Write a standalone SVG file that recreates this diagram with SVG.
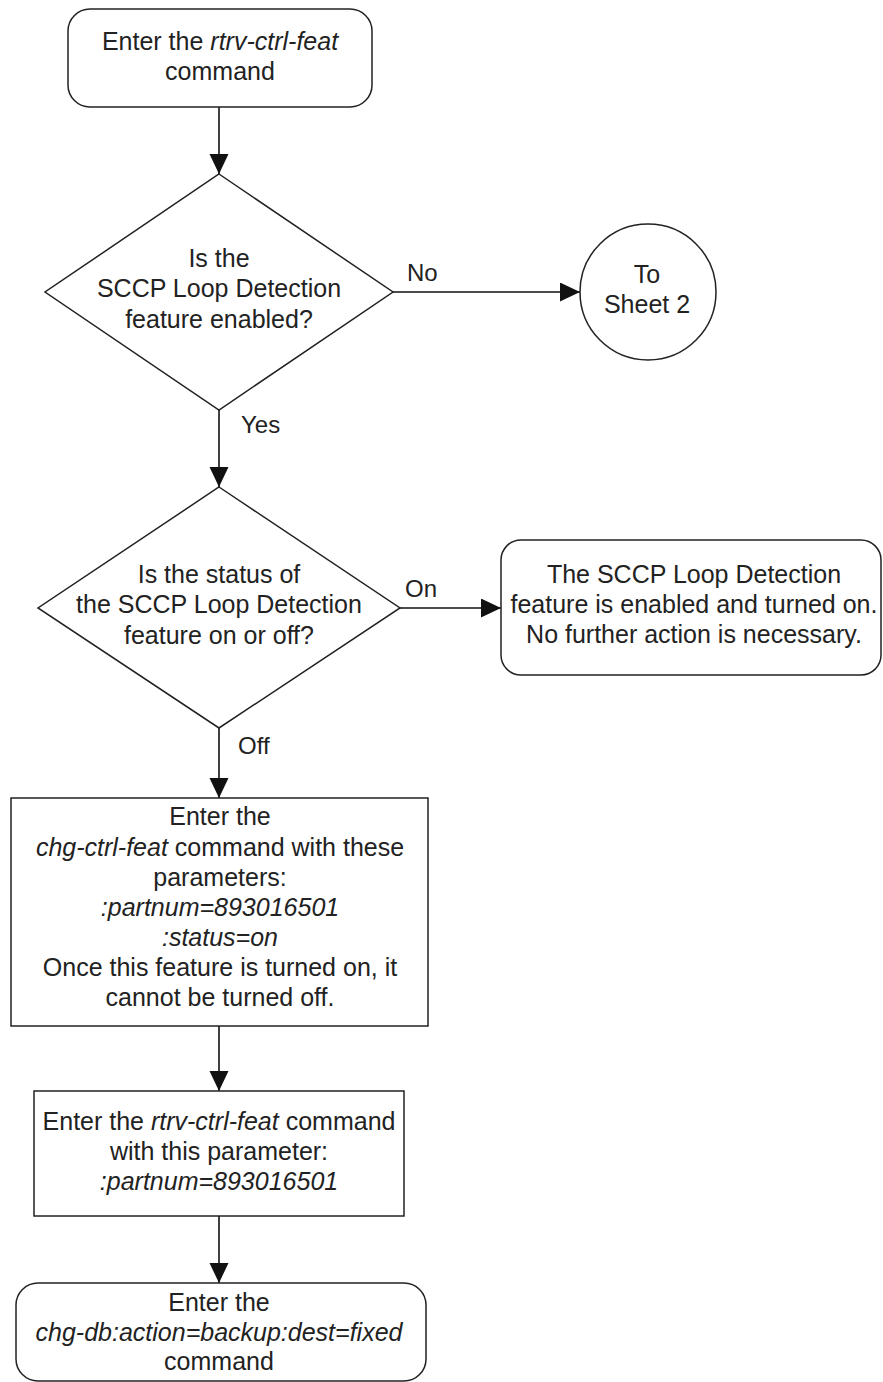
<svg xmlns="http://www.w3.org/2000/svg" width="883" height="1382" viewBox="0 0 883 1382">
<style>
.shape{fill:#fff;stroke:#222;stroke-width:1.5}
.t{font-family:"Liberation Sans",Arial,sans-serif;font-size:25px;fill:#222;text-anchor:middle}
.lbl{font-family:"Liberation Sans",Arial,sans-serif;font-size:24px;fill:#222}
.i{font-style:italic}
.conn{stroke:#111;stroke-width:1.6;fill:none;marker-end:url(#arr)}
</style>
<defs>
<marker id="arr" markerUnits="userSpaceOnUse" markerWidth="20" markerHeight="20" refX="20" refY="9.5" orient="auto">
<path d="M0,0 L20,9.5 L0,19 z" fill="#111"/>
</marker>
</defs>
<rect width="883" height="1382" fill="#fff"/>
<g id="connectors">
<line class="conn" x1="219" y1="107" x2="219" y2="174"/>
<line class="conn" x1="393" y1="292" x2="580" y2="292"/>
<line class="conn" x1="219" y1="410" x2="219" y2="487"/>
<line class="conn" x1="400" y1="608" x2="501" y2="608"/>
<line class="conn" x1="219" y1="728" x2="219" y2="798"/>
<line class="conn" x1="219" y1="1026" x2="219" y2="1091"/>
<line class="conn" x1="219" y1="1216" x2="219" y2="1283"/>
<text class="lbl" x="407" y="281">No</text>
<text class="lbl" x="241" y="433">Yes</text>
<text class="lbl" x="405" y="597">On</text>
<text class="lbl" x="238" y="754">Off</text>
</g>
<g id="start">
<rect class="shape" x="68" y="9" width="304" height="98" rx="22"/>
<text class="t" x="220" y="50">Enter the <tspan class="i">rtrv-ctrl-feat</tspan></text>
<text class="t" x="220" y="80">command</text>
</g>
<g id="dec1">
<polygon class="shape" points="219,174 393,292 219,410 45,292"/>
<text class="t" x="219" y="267">Is the</text>
<text class="t" x="219" y="297">SCCP Loop Detection</text>
<text class="t" x="219" y="328">feature enabled?</text>
</g>
<g id="sheet2">
<circle class="shape" cx="648" cy="292" r="68"/>
<text class="t" x="647" y="283">To</text>
<text class="t" x="647" y="313">Sheet 2</text>
</g>
<g id="dec2">
<polygon class="shape" points="219,487 400,608 219,728 38,608"/>
<text class="t" x="219" y="583">Is the status of</text>
<text class="t" x="219" y="613">the SCCP Loop Detection</text>
<text class="t" x="219" y="644">feature on or off?</text>
</g>
<g id="done">
<rect class="shape" x="501" y="540" width="380" height="135" rx="20"/>
<text class="t" x="694" y="583">The SCCP Loop Detection</text>
<text class="t" x="694" y="613">feature is enabled and turned on.</text>
<text class="t" x="694" y="643">No further action is necessary.</text>
</g>
<g id="chg">
<rect class="shape" x="11" y="798" width="417" height="228"/>
<text class="t" x="220" y="825">Enter the</text>
<text class="t" x="220" y="856"><tspan class="i">chg-ctrl-feat</tspan> command with these</text>
<text class="t" x="220" y="886">parameters:</text>
<text class="t i" x="220" y="916">:partnum=893016501</text>
<text class="t i" x="220" y="946">:status=on</text>
<text class="t" x="220" y="976">Once this feature is turned on, it</text>
<text class="t" x="220" y="1006">cannot be turned off.</text>
</g>
<g id="rtrv">
<rect class="shape" x="34" y="1091" width="370" height="125"/>
<text class="t" x="219" y="1130">Enter the <tspan class="i">rtrv-ctrl-feat</tspan> command</text>
<text class="t" x="219" y="1160">with this parameter:</text>
<text class="t i" x="219" y="1190">:partnum=893016501</text>
</g>
<g id="backup">
<rect class="shape" x="16" y="1283" width="410" height="98" rx="22"/>
<text class="t" x="219" y="1311">Enter the</text>
<text class="t i" x="219" y="1341">chg-db:action=backup:dest=fixed</text>
<text class="t" x="219" y="1370">command</text>
</g>
</svg>
